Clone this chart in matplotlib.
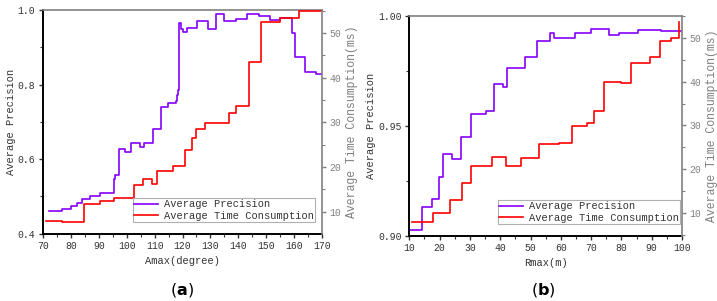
import matplotlib
matplotlib.use("Agg")
import matplotlib.pyplot as plt
from matplotlib.ticker import MultipleLocator, FormatStrFormatter

# (a) precision / time vs Amax
amax_prec_x = [72.3, 76.7, 80.0, 82.3, 84.0, 87.0, 90.4, 95.3, 95.9, 97.3, 99.3, 101.5,
               104.8, 106.1, 109.4, 112.3, 114.9, 117.6, 118.0, 118.5, 118.9, 119.5,
               120.3, 121.5, 125.1, 129.1, 131.9, 135.0, 139.2, 143.2, 147.3, 151.5,
               154.8, 159.2, 160.5, 163.8, 168.0, 170.0]
amax_prec_y = [0.460, 0.467, 0.474, 0.483, 0.492, 0.502, 0.508, 0.546, 0.557, 0.626,
               0.619, 0.643, 0.632, 0.643, 0.682, 0.741, 0.750, 0.755, 0.772, 0.785,
               0.966, 0.949, 0.942, 0.953, 0.971, 0.948, 0.989, 0.971, 0.975, 0.989,
               0.984, 0.973, 0.979, 0.938, 0.874, 0.833, 0.828, 0.828]
amax_time_x = [71.1, 76.7, 84.8, 90.4, 95.6, 102.6, 106.0, 109.0, 111.0, 116.7, 120.9,
               123.5, 124.8, 128.2, 136.7, 139.0, 143.9, 148.0, 154.9, 161.8, 170.0]
amax_time_y = [7.9, 7.7, 11.7, 12.3, 13.0, 16.0, 17.3, 16.2, 19.2, 20.2, 23.9, 26.4,
               28.5, 29.8, 32.0, 33.6, 43.4, 52.5, 53.3, 55.0, 55.0]

# (b) precision / time vs Rmax
rmax_prec_x = [10.2, 14.1, 17.5, 19.7, 21.2, 24.2, 27.2, 30.4, 35.3, 38.1, 40.8, 42.1,
               48.1, 52.0, 56.4, 57.9, 64.7, 69.9, 76.0, 79.3, 85.6, 93.1, 100.0]
rmax_prec_y = [0.9026, 0.9129, 0.9167, 0.9265, 0.9370, 0.9350, 0.9447, 0.9553, 0.9568,
               0.9688, 0.9675, 0.9761, 0.9811, 0.9886, 0.9920, 0.9899, 0.9923, 0.9940,
               0.9912, 0.9921, 0.9936, 0.9930, 0.9930]
rmax_time_x = [10.8, 17.7, 23.5, 27.5, 30.4, 37.3, 41.8, 46.9, 52.8, 59.4, 63.7, 68.5,
               70.9, 74.2, 79.8, 83.3, 89.3, 92.9, 96.3, 99.1]
rmax_time_y = [8.1, 10.0, 13.0, 17.0, 20.7, 22.9, 20.8, 22.6, 25.7, 26.1, 29.8, 30.6,
               33.2, 39.8, 39.6, 44.2, 45.6, 49.3, 49.9, 53.5]

PURPLE = "#8400ff"
RED = "#ff0000"
GRAY = "#808080"
DARK = "#333333"

plt.rcParams["font.family"] = ["Liberation Mono", "DejaVu Sans Mono"]
plt.rcParams["font.size"] = 7.5

fig = plt.figure(figsize=(7.17, 3.01), dpi=100)
W, H = 717, 301


def panel(rect, px, py, tx, ty, xlim, ylim, tlim, xmaj, ymaj, yfmt, xlabel, leg_anchor):
    l, t, w, h = rect
    ax = fig.add_axes([l / W, 1 - (t + h) / H, w / W, h / H])
    tw = ax.twinx()
    lp, = ax.step(px, py, where="post", color=PURPLE, lw=1.2, label="Average Precision")
    lt, = tw.step(tx, ty, where="post", color=RED, lw=1.2, label="Average Time Consumption")

    ax.set_xlim(*xlim)
    ax.set_ylim(*ylim)
    tw.set_ylim(*tlim)
    ax.xaxis.set_major_locator(MultipleLocator(xmaj))
    ax.xaxis.set_minor_locator(MultipleLocator(xmaj / 2))
    ax.yaxis.set_major_locator(MultipleLocator(ymaj))
    ax.yaxis.set_minor_locator(MultipleLocator(ymaj / 2))
    ax.yaxis.set_major_formatter(FormatStrFormatter(yfmt))
    tw.yaxis.set_major_locator(MultipleLocator(10))
    tw.yaxis.set_minor_locator(MultipleLocator(5))

    for s in ("left", "bottom"):
        ax.spines[s].set_color("black")
        ax.spines[s].set_linewidth(1.4)
    ax.spines["top"].set_color(GRAY)
    ax.spines["top"].set_linewidth(1.2)
    tw.spines["right"].set_color(GRAY)
    tw.spines["right"].set_linewidth(1.2)
    for s in ("left", "bottom", "top"):
        tw.spines[s].set_visible(False)
    ax.spines["right"].set_visible(False)

    ax.tick_params(which="major", direction="out", length=3, width=1, pad=2.5,
                   colors=DARK, labelsize=7)
    ax.tick_params(which="minor", direction="out", length=2, width=0.8, colors=DARK)
    tw.tick_params(which="major", direction="out", length=3, width=1, pad=2.5,
                   colors=GRAY, labelsize=7)
    tw.tick_params(which="minor", direction="out", length=2, width=0.8, colors=GRAY)

    ax.set_xlabel(xlabel, color=DARK, labelpad=3)
    ax.set_ylabel("Average Precision", color=DARK, labelpad=1.5)
    tw.set_ylabel("Average Time Consumption(ms)", color=GRAY, labelpad=3, fontsize=8.3)

    leg = tw.legend(handles=[lp, lt], loc="lower left", bbox_to_anchor=leg_anchor,
                    borderaxespad=0, borderpad=0.1, labelspacing=0.15,
                    handlelength=2.3, handletextpad=0.55, fancybox=False,
                    edgecolor="#b0b0b0", framealpha=1, fontsize=7.5)
    leg.get_frame().set_linewidth(0.8)
    for txt in leg.get_texts():
        txt.set_color(DARK)
    return ax


panel((43, 10, 279, 223.7), amax_prec_x, amax_prec_y, amax_time_x, amax_time_y,
      (70, 170), (0.4, 1.0), (5.08, 55.15), 10, 0.2, "%.1f", "Amax(degree)",
      (0.324, 0.052))
panel((409.3, 15.7, 272.7, 220), rmax_prec_x, rmax_prec_y, rmax_time_x, rmax_time_y,
      (10, 100), (0.90, 1.00), (4.9, 55.0), 10, 0.05, "%.2f", "Rmax(m)",
      (0.326, 0.053))

fig.text(182 / W, 1 - 290 / H, r"($\mathbf{a}$)", ha="center", va="center",
         fontsize=11.5, family="DejaVu Sans")
fig.text(543 / W, 1 - 290 / H, r"($\mathbf{b}$)", ha="center", va="center",
         fontsize=11.5, family="DejaVu Sans")

fig.savefig("out.png", dpi=100)
